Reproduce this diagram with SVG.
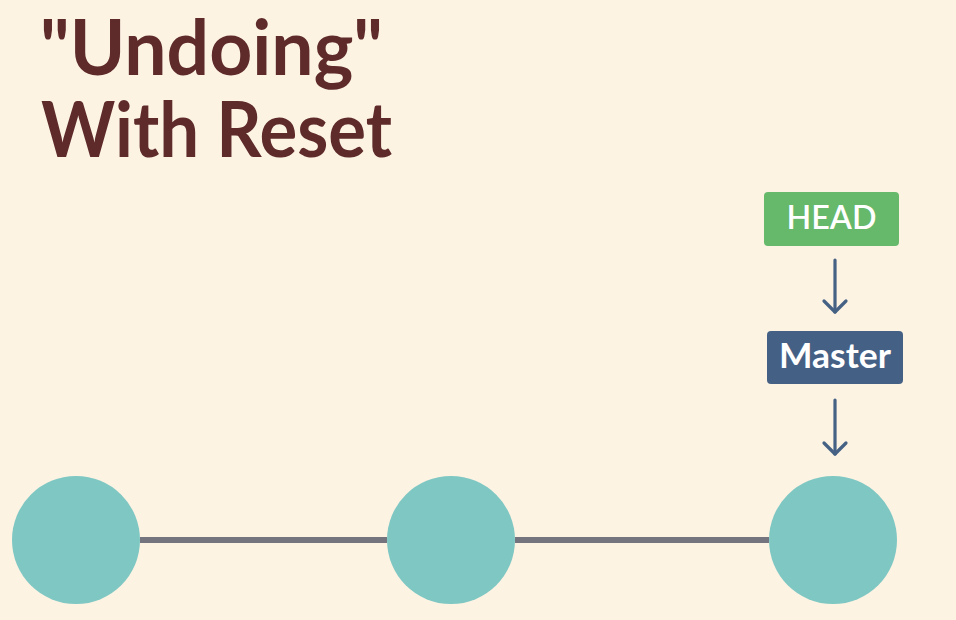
<svg xmlns="http://www.w3.org/2000/svg" width="956" height="620" viewBox="0 0 956 620">
<style>
.title{font-family:Lato,"Liberation Sans",sans-serif;font-size:76px;fill:#5e2a2a;font-weight:700}
.lbl{font-family:Lato,"Liberation Sans",sans-serif;fill:#ffffff;text-anchor:middle}
.commit{fill:#7fc7c3}
.edge{stroke:#74747e;stroke-width:6}
.arrow{stroke:#456184;stroke-width:3.2;fill:none;stroke-linecap:round;stroke-linejoin:round}
</style>
<rect width="956" height="620" fill="#fcf3e3"/>
<text class="title" x="40" y="75" textLength="343" lengthAdjust="spacingAndGlyphs">"Undoing"</text>
<text class="title" x="41" y="157" textLength="351" lengthAdjust="spacingAndGlyphs">With Reset</text>
<g id="connectors">
<line class="edge" x1="140" y1="540" x2="387" y2="540"/>
<line class="edge" x1="515" y1="540" x2="769" y2="540"/>
<g class="arrow"><path d="M835 260V312"/><path d="M824 301L835 312L846 301"/></g>
<g class="arrow"><path d="M835 400V454"/><path d="M824 443L835 454L846 443"/></g>
</g>
<g id="c1"><circle class="commit" cx="76" cy="540" r="64"/></g>
<g id="c2"><circle class="commit" cx="451" cy="540" r="64"/></g>
<g id="c3"><circle class="commit" cx="833" cy="540" r="64"/></g>
<g id="head"><rect x="764" y="192" width="135" height="54" rx="4" fill="#66b86a"/><text class="lbl" x="831.5" y="229" font-size="32" font-weight="600" textLength="90" lengthAdjust="spacingAndGlyphs">HEAD</text></g>
<g id="master"><rect x="767" y="331" width="136" height="53" rx="4" fill="#456085"/><text class="lbl" x="835" y="368" font-size="34" font-weight="700" textLength="112" lengthAdjust="spacingAndGlyphs">Master</text></g>
</svg>
